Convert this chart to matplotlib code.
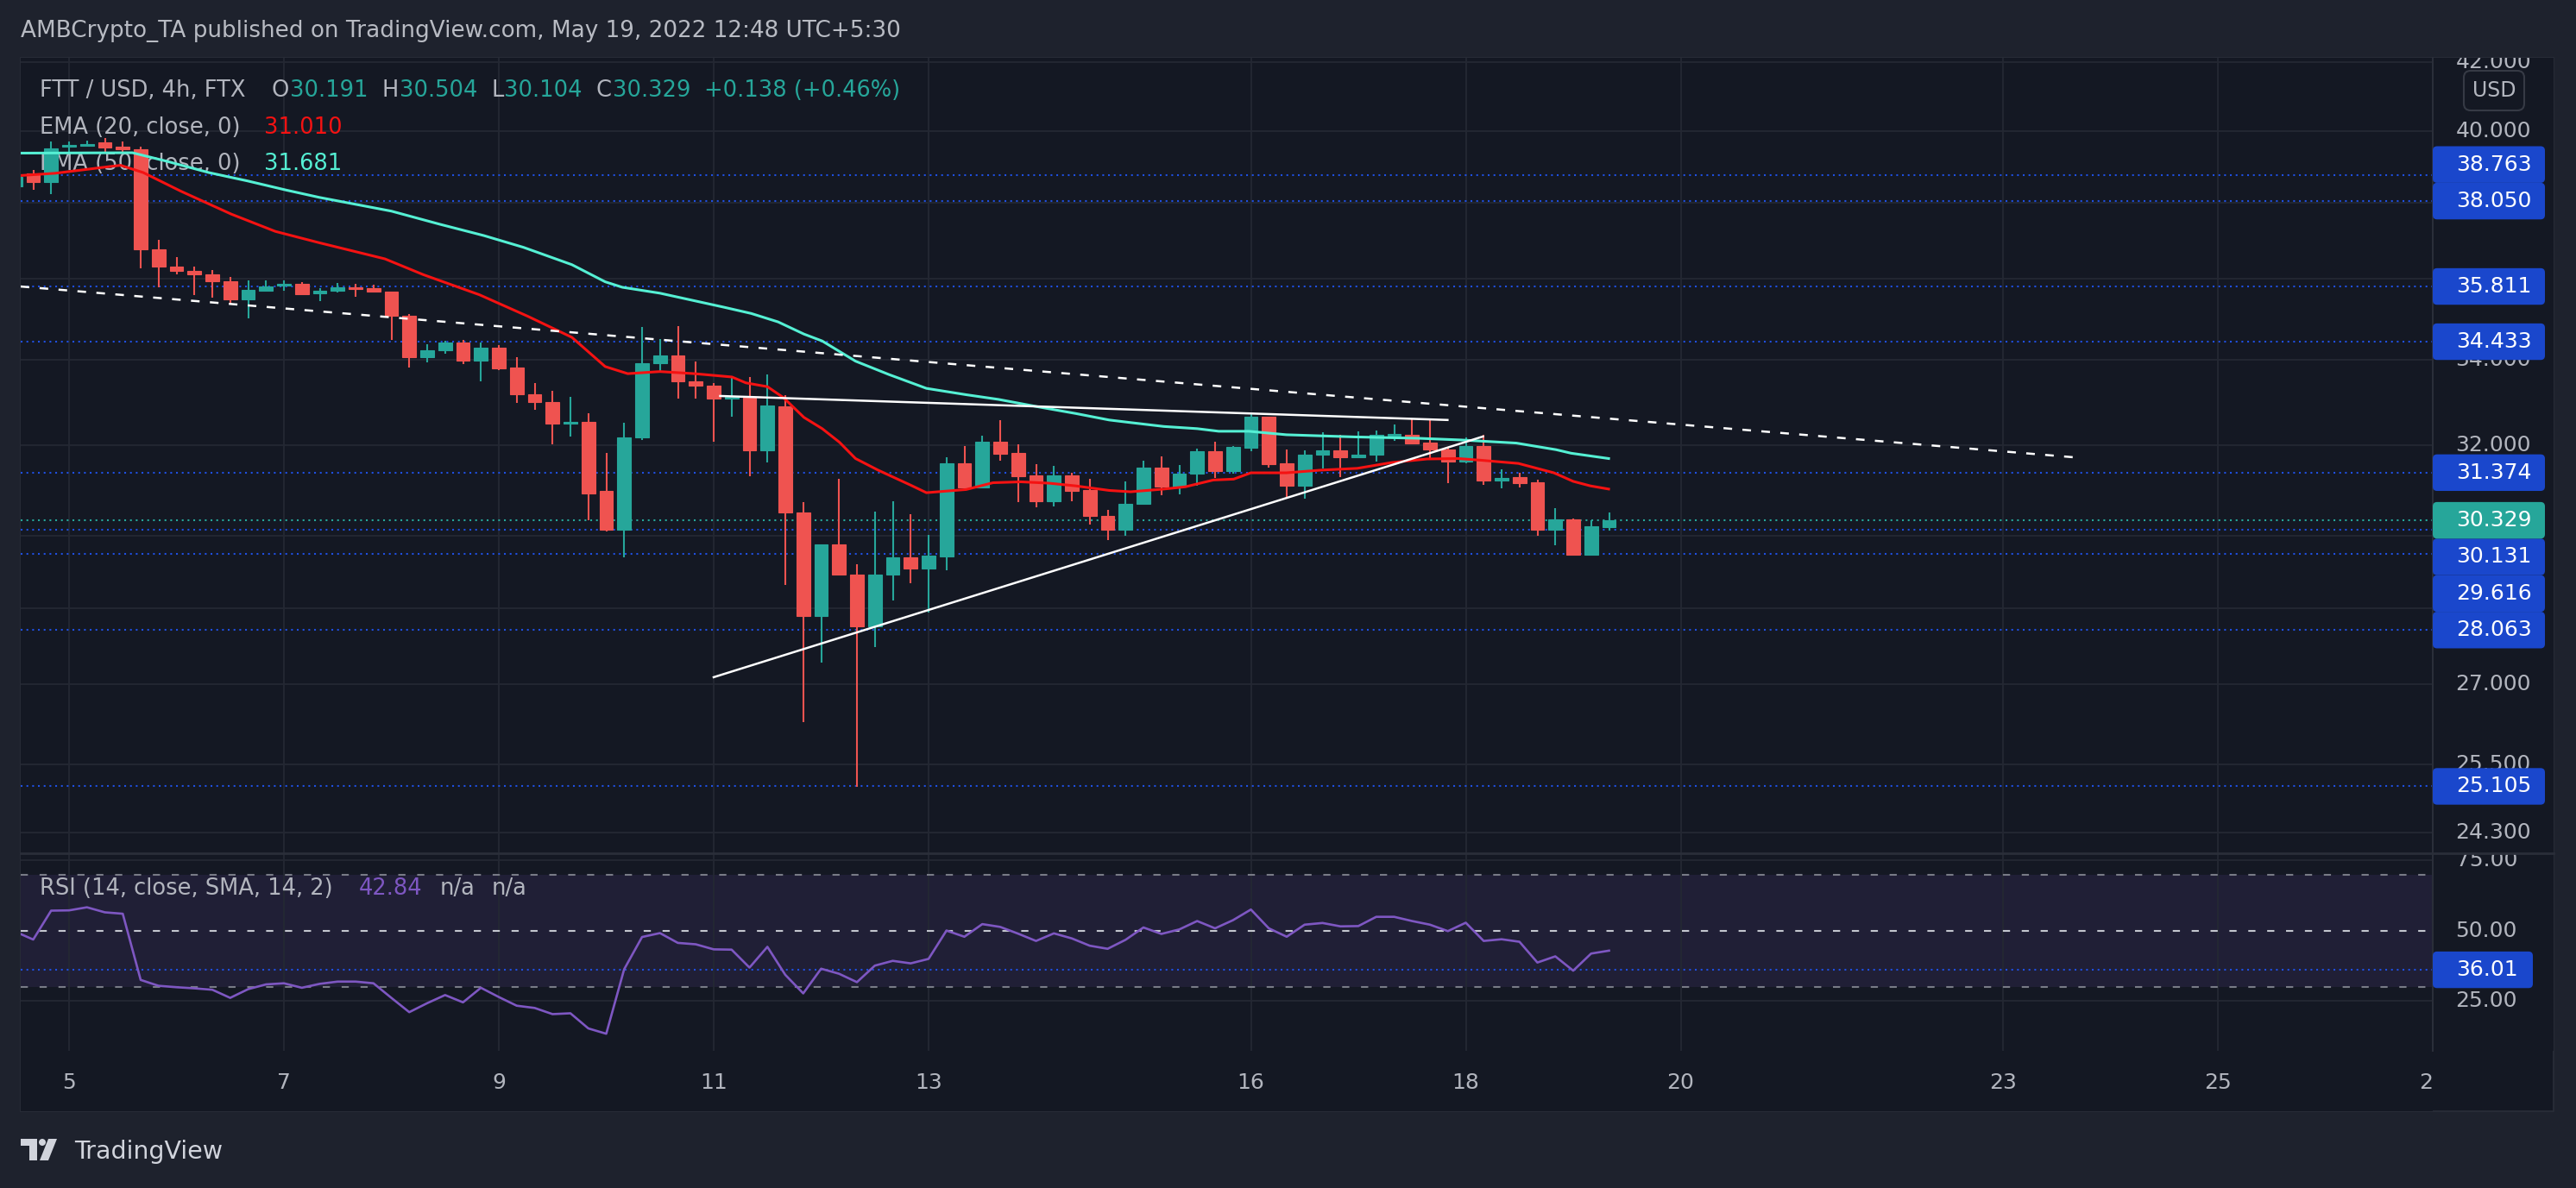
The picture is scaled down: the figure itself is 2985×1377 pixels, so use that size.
import numpy as np
import pandas as pd
import matplotlib
matplotlib.use("Agg")
import matplotlib.pyplot as plt
from matplotlib.patches import FancyBboxPatch, Rectangle, Polygon, Circle
from matplotlib.lines import Line2D
from matplotlib.transforms import Affine2D

plt.rcParams['font.family'] = ['DejaVu Sans']

# ---- data ----
candle_time = pd.date_range('2022-05-04 12:00', periods=90, freq='4h')
opens = [38.45, 38.80, 38.56, 39.55, 39.58, 39.66, 39.54, 39.48, 36.76, 36.32,
         36.22, 36.13, 35.95, 35.49, 35.71, 35.83, 35.87, 35.64, 35.70, 35.79,
         35.77, 35.67, 35.08, 34.05, 34.22, 34.41, 33.97, 34.29, 33.80, 33.17,
         32.99, 32.48, 32.52, 30.97, 30.13, 32.16, 33.90, 34.09, 33.47, 33.37,
         33.06, 33.09, 31.88, 32.89, 30.50, 28.34, 29.82, 29.19, 28.13, 29.18,
         29.55, 29.31, 29.56, 31.58, 31.05, 32.08, 31.81, 31.31, 30.75, 31.32,
         30.98, 30.43, 30.13, 30.68, 31.48, 31.07, 31.35, 31.86, 31.41, 31.94,
         32.64, 31.58, 31.09, 31.77, 31.87, 31.71, 31.77, 32.21, 32.23, 32.05,
         31.90, 31.63, 31.98, 31.19, 31.27, 31.16, 30.13, 30.35, 29.60, 30.191]
highs = [38.85, 38.90, 39.70, 39.70, 39.72, 39.80, 39.69, 39.54, 37.02, 36.56,
         36.33, 36.24, 36.06, 35.97, 35.97, 35.97, 35.93, 35.77, 35.89, 35.88,
         35.85, 35.67, 35.11, 34.38, 34.46, 34.48, 34.42, 34.35, 34.05, 33.43,
         33.26, 33.10, 32.72, 31.81, 32.50, 34.80, 34.49, 34.82, 33.95, 33.43,
         33.56, 33.58, 33.65, 33.16, 30.73, 29.82, 31.24, 29.40, 30.51, 30.75,
         30.46, 30.02, 31.72, 31.97, 32.20, 32.56, 32.01, 31.56, 31.52, 31.37,
         31.24, 30.55, 31.18, 31.64, 31.74, 31.54, 31.92, 32.07, 31.98, 32.71,
         32.64, 31.89, 31.87, 32.28, 32.23, 32.30, 32.33, 32.47, 32.58, 32.60,
         31.94, 32.16, 32.22, 31.44, 31.37, 31.21, 30.59, 30.37, 30.33, 30.504]
lows = [38.30, 38.35, 38.25, 39.41, 39.58, 39.41, 39.35, 36.27, 35.79, 36.13,
        35.60, 35.53, 35.35, 35.00, 35.68, 35.71, 35.62, 35.45, 35.66, 35.56,
        35.67, 34.48, 33.80, 33.94, 34.13, 33.89, 33.47, 33.74, 32.96, 32.81,
        32.01, 32.18, 30.33, 30.09, 29.55, 32.11, 33.72, 33.06, 33.06, 32.07,
        32.64, 31.30, 31.61, 28.96, 26.28, 27.41, 29.18, 25.10, 27.71, 28.65,
        29.00, 28.41, 29.28, 31.03, 31.05, 31.65, 30.72, 30.61, 30.63, 30.75,
        30.23, 29.91, 29.99, 30.68, 30.88, 30.89, 31.08, 31.26, 31.36, 31.85,
        31.48, 30.80, 30.80, 31.46, 31.27, 31.71, 31.63, 32.10, 32.01, 31.70,
        31.14, 31.58, 31.10, 31.03, 31.04, 29.99, 29.79, 29.57, 29.57, 30.104]
closes = [38.72, 38.56, 39.51, 39.60, 39.63, 39.52, 39.48, 36.76, 36.31, 36.22,
          36.13, 35.95, 35.49, 35.72, 35.82, 35.88, 35.62, 35.70, 35.78, 35.74,
          35.67, 35.07, 34.05, 34.22, 34.41, 33.97, 34.29, 33.79, 33.17, 32.99,
          32.48, 32.52, 30.91, 30.13, 32.17, 33.91, 34.09, 33.47, 33.37, 33.06,
          33.10, 31.88, 32.90, 30.49, 28.34, 29.82, 29.18, 28.13, 29.19, 29.55,
          29.31, 29.57, 31.58, 31.05, 32.08, 31.79, 31.30, 30.75, 31.31, 30.97,
          30.42, 30.13, 30.69, 31.48, 31.07, 31.36, 31.86, 31.41, 31.96, 32.64,
          31.56, 31.09, 31.78, 31.87, 31.71, 31.78, 32.22, 32.25, 32.03, 31.90,
          31.63, 31.98, 31.19, 31.26, 31.14, 30.13, 30.35, 29.60, 30.20, 30.329]
rsi = [49.6, 46.8, 57.1, 57.2, 58.3, 56.5, 56.0, 32.4, 30.3, 29.8,
       29.4, 28.9, 26.0, 29.1, 30.8, 31.2, 29.6, 31.0, 31.8, 31.8,
       31.2, 26.0, 20.9, 24.1, 27.0, 24.4, 29.6, 26.3, 23.2, 22.4,
       20.2, 20.5, 15.1, 13.2, 36.2, 47.7, 49.1, 45.6, 45.1, 43.3,
       43.2, 36.8, 44.2, 34.2, 27.6, 36.4, 34.6, 31.6, 37.5, 39.2,
       38.3, 39.9, 50.0, 47.8, 52.3, 51.3, 48.9, 46.3, 49.0, 47.2,
       44.6, 43.5, 46.7, 51.1, 48.8, 50.4, 53.4, 50.8, 53.7, 57.5,
       50.8, 47.8, 52.1, 52.7, 51.5, 51.6, 54.9, 54.9, 53.4, 52.1,
       49.8, 52.8, 46.3, 46.9, 46.0, 38.6, 40.8, 35.7, 41.8, 42.84]

ema20_day = [4.56, 4.87, 5.39, 5.48, 5.69, 6.04, 6.51, 6.92, 7.33, 7.94,
             8.30, 8.82, 9.27, 9.68, 9.99, 10.20, 10.50, 10.82, 11.17, 11.30,
             11.50, 11.65, 11.84, 12.01, 12.17, 12.32, 12.53, 12.83, 12.98, 13.35,
             13.60, 13.86, 14.12, 14.37, 14.68, 14.88, 15.19, 15.39, 15.65, 15.84,
             16.00, 16.33, 16.65, 16.99, 17.31, 17.64, 17.93, 18.15, 18.49, 18.82,
             19.00, 19.16, 19.33]
ema20 = [38.75, 38.81, 39.00, 39.03, 38.83, 38.32, 37.70, 37.24, 36.94, 36.52,
         36.11, 35.60, 35.06, 34.54, 33.83, 33.66, 33.71, 33.66, 33.58, 33.44,
         33.35, 33.09, 32.63, 32.37, 32.06, 31.69, 31.43, 31.10, 30.93, 31.00,
         31.15, 31.17, 31.14, 31.08, 30.98, 30.95, 31.01, 31.06, 31.21, 31.23,
         31.37, 31.37, 31.43, 31.47, 31.60, 31.68, 31.69, 31.65, 31.58, 31.37,
         31.18, 31.08, 31.01]
ema50_day = [4.56, 5.59, 5.90, 6.30, 6.66, 7.02, 7.33, 8.00, 8.45, 8.86,
             9.23, 9.68, 9.99, 10.15, 10.50, 11.09, 11.35, 11.60, 11.84, 12.01,
             12.32, 12.63, 12.98, 13.35, 13.65, 14.01, 14.37, 14.68, 14.88, 15.19,
             15.50, 15.70, 15.98, 16.33, 16.97, 17.55, 17.96, 18.47, 18.84, 18.98,
             19.33]
ema50 = [39.37, 39.38, 39.15, 38.83, 38.60, 38.35, 38.15, 37.78, 37.43, 37.13,
         36.82, 36.37, 35.93, 35.79, 35.64, 35.29, 35.13, 34.92, 34.62, 34.45,
         33.96, 33.64, 33.31, 33.16, 33.05, 32.88, 32.72, 32.57, 32.51, 32.42,
         32.37, 32.31, 32.31, 32.23, 32.18, 32.15, 32.11, 32.04, 31.89, 31.81,
         31.69]

levels = [38.763, 38.050, 35.811, 34.433, 31.374, 30.131, 29.616, 28.063, 25.105]
last_price = 30.329
rsi_level = 36.01
price_grid = [42.0, 40.0, 38.0, 36.0, 34.0, 32.0, 30.0, 28.5, 27.0, 25.5, 24.3]
price_labels = [42.0, 40.0, 34.0, 32.0, 27.0, 25.5, 24.3]   # the others sit under the tags
rsi_grid = [75, 25]
rsi_labels = [75, 50, 25]
day_ticks = [5, 7, 9, 11, 13, 16, 18, 20, 23, 25, 27]

# drawn trendlines: (day, price) end points
dash_line = ([4.55, 23.65], [35.81, 31.72])
top_line = ([11.06, 17.83], [33.13, 32.57])
rise_line = ([11.00, 18.16], [27.13, 32.19])

# ---- colors ----
OUTER = '#1e222d'
BG = '#141823'
GRID = '#242833'
BORDER = '#2a2e39'
TXT = '#b2b5be'
UP = '#26a69a'
DOWN = '#ef5350'
BLUE = '#1f4fe0'
BOXBLUE = '#1a47cc'
E20 = '#f51212'
E50 = '#55f0d4'
PURPLE = '#7e57c2'

W, H = 2985, 1377
fig = plt.figure(figsize=(W / 100, H / 100), dpi=100, facecolor=OUTER)
pix = Affine2D().scale(1 / W, -1 / H).translate(0, 1) + fig.transFigure
renderer = fig.canvas.get_renderer()

fig.add_artist(Rectangle((24, 67), 2935, 1221, transform=pix, facecolor=BG,
                         edgecolor=BORDER, lw=1.2, zorder=-1))


def px_axes(x0, y0, x1, y1):
    a = fig.add_axes([x0 / W, 1 - y1 / H, (x1 - x0) / W, (y1 - y0) / H])
    a.set_facecolor(BG)
    for s in a.spines.values():
        s.set_visible(False)
    return a


def no_ticks(a):
    a.tick_params(which='both', left=False, labelleft=False, bottom=False,
                  labelbottom=False, right=False, top=False)


days = ((candle_time - pd.Timestamp('2022-05-01')) / pd.Timedelta(days=1)).to_numpy() + 1
o = np.array(opens); h = np.array(highs); l = np.array(lows); c = np.array(closes)
XL = (4.5502, 27.0)
PY = (23.94, 42.128)
RY = (7.11, 77.57)

# ---- price pane ----
ax = px_axes(24, 67, 2819, 989)
ax.set_yscale('log')
ax.set_xlim(*XL)
ax.set_ylim(*PY)
no_ticks(ax)
for p in price_grid:
    ax.axhline(p, color=GRID, lw=1.3, zorder=0.5)
for d in day_ticks:
    ax.axvline(d, color=GRID, lw=1.3, zorder=0.5)
for lv in levels:
    ax.axhline(lv, color=BLUE, lw=1.5, ls=(0, (1, 2.2)), zorder=1.5)
ax.axhline(last_price, color=UP, lw=1.5, ls=(0, (1, 2.2)), zorder=1.5)

col = np.where(c >= o, UP, DOWN)
ax.vlines(days, l, h, colors=col, lw=1.5, zorder=3)
ax.bar(days, np.abs(c - o), bottom=np.minimum(o, c), width=0.1285, color=col,
       edgecolor=col, lw=0.8, zorder=4)

ax.plot(ema50_day, ema50, color=E50, lw=2.2, zorder=5, solid_joinstyle='round')
ax.plot(ema20_day, ema20, color=E20, lw=2.2, zorder=5, solid_joinstyle='round')

ax.plot(*dash_line, color='white', lw=1.8, ls=(0, (4, 4.8)), zorder=6)
ax.plot(*top_line, color='white', lw=1.8, zorder=6)
ax.plot(*rise_line, color='white', lw=1.8, zorder=6)

# legend rows (drawn under the candles, like the original)
LF = 18.5


def leg_row(a, x, y, parts):
    for s, color, gap in parts:
        t = a.text(x, y, s, transform=pix, color=color, fontsize=LF, va='center',
                   ha='left', zorder=1, clip_on=False)
        x += t.get_window_extent(renderer).width + gap


leg_row(ax, 46, 105, [('FTT / USD, 4h, FTX', TXT, 30),
                      ('O', TXT, 1), ('30.191', UP, 16),
                      ('H', TXT, 1), ('30.504', UP, 16),
                      ('L', TXT, 1), ('30.104', UP, 16),
                      ('C', TXT, 1), ('30.329', UP, 16),
                      ('+0.138 (+0.46%)', UP, 0)])
leg_row(ax, 46, 148, [('EMA (20, close, 0)', TXT, 28), ('31.010', E20, 0)])
leg_row(ax, 46, 190, [('EMA (50, close, 0)', TXT, 28), ('31.681', E50, 0)])

# ---- RSI pane ----
axr = px_axes(24, 989, 2819, 1218)
axr.set_xlim(*XL)
axr.set_ylim(*RY)
no_ticks(axr)
axr.axhspan(30, 70, color=PURPLE, alpha=0.12, lw=0, zorder=0.3)
for g in rsi_grid:
    axr.axhline(g, color=GRID, lw=1.3, zorder=0.5)
for d in day_ticks:
    axr.axvline(d, color=GRID, lw=1.3, zorder=0.5)
axr.axhline(70, color='#787b86', lw=1.5, ls=(0, (4, 6.5)), zorder=1)
axr.axhline(50, color='#c3c6ce', lw=1.5, ls=(0, (4, 6.5)), zorder=1)
axr.axhline(30, color='#787b86', lw=1.5, ls=(0, (4, 6.5)), zorder=1)
axr.axhline(rsi_level, color=BLUE, lw=1.5, ls=(0, (1, 2.2)), zorder=1.5)
axr.plot(days, rsi, color=PURPLE, lw=1.9, zorder=3)

leg_row(axr, 46, 1030, [('RSI (14, close, SMA, 14, 2)', TXT, 30), ('42.84', PURPLE, 20),
                        ('n/a', TXT, 20), ('n/a', TXT, 0)])

# ---- time axis ----
axt = px_axes(24, 1218, 2819, 1288)
axt.set_xlim(*XL)
axt.set_ylim(0, 1)
no_ticks(axt)
for d in day_ticks:
    axt.text(d, 0.47, str(d), transform=axt.get_xaxis_transform(), color=TXT,
             fontsize=18, ha='center', va='center', clip_on=True)

# ---- price scale ----
AF = 18
axp = px_axes(2819, 67, 2959, 989)
axp.set_yscale('log')
axp.set_ylim(*PY)
axp.set_xlim(0, 1)
no_ticks(axp)
for p in price_labels:
    axp.text(0.19, p, '%.3f' % p, transform=axp.get_yaxis_transform(), color=TXT,
             fontsize=AF, va='center', ha='left', clip_on=True)

axrp = px_axes(2819, 989, 2959, 1218)
axrp.set_ylim(*RY)
axrp.set_xlim(0, 1)
no_ticks(axrp)
for g in rsi_labels:
    axrp.text(0.19, g, '%.2f' % g, transform=axrp.get_yaxis_transform(), color=TXT,
              fontsize=AF, va='center', ha='left', clip_on=True)

# separators
fig.add_artist(Line2D([2819, 2819], [67, 1218], transform=pix, color=BORDER, lw=1.5, zorder=2))
fig.add_artist(Line2D([24, 2959], [989, 989], transform=pix, color=BORDER, lw=2, zorder=2))


def to_px(a, v):
    return H - a.transData.transform((0.5, v))[1]


# price tags: stacked so they don't overlap, anchored on the last price
BH = 42.4
anchor = to_px(ax, last_price)
above = sorted([lv for lv in levels if lv > last_price])
below = sorted([lv for lv in levels if lv < last_price], reverse=True)
box_y = {}
prev = anchor
for lv in above:
    y = min(to_px(ax, lv), prev - BH)
    box_y[lv] = y
    prev = y
prev = anchor
for lv in below:
    y = max(to_px(ax, lv), prev + BH)
    box_y[lv] = y
    prev = y


def price_box(yc, s, fc, w=130):
    fig.add_artist(FancyBboxPatch((2819, yc - BH / 2), w, BH, transform=pix,
                                  boxstyle='round,pad=0,rounding_size=5',
                                  facecolor=fc, edgecolor='none', zorder=5))
    fig.text(2846, yc, s, transform=pix, color='white', fontsize=AF, va='center',
             ha='left', zorder=6)


for lv, y in box_y.items():
    price_box(y, '%.3f' % lv, BOXBLUE)
price_box(anchor, '%.3f' % last_price, UP)
price_box(H - axr.transData.transform((0.5, rsi_level))[1], '%.2f' % rsi_level, BOXBLUE, w=116)

# USD tag
fig.add_artist(FancyBboxPatch((2855, 82), 70, 46, transform=pix,
                              boxstyle='round,pad=0,rounding_size=8',
                              facecolor=BG, edgecolor='#363a45', lw=1.5, zorder=5))
fig.text(2890, 105, 'USD', transform=pix, color=TXT, fontsize=17, ha='center',
         va='center', zorder=6)

# header
fig.text(24, 36, 'AMBCrypto_TA published on TradingView.com, May 19, 2022 12:48 UTC+5:30',
         transform=pix, color='#b8bbc3', fontsize=18.9, va='center', ha='left')

# footer logo
LOGO = '#d1d4dc'
fig.add_artist(Polygon([(24, 1320), (43, 1320), (43, 1345), (34, 1345), (34, 1328), (24, 1328)],
                       closed=True, transform=pix, facecolor=LOGO, edgecolor='none'))
fig.add_artist(Circle((49, 1324), 4, transform=pix, facecolor=LOGO, edgecolor='none'))
fig.add_artist(Polygon([(56, 1320), (66, 1320), (56, 1345), (46, 1345)],
                       closed=True, transform=pix, facecolor=LOGO, edgecolor='none'))
fig.text(86, 1335, 'TradingView', transform=pix, color=LOGO, fontsize=20.5,
         va='center', ha='left')

fig.savefig('out.png', dpi=100, facecolor=OUTER)
